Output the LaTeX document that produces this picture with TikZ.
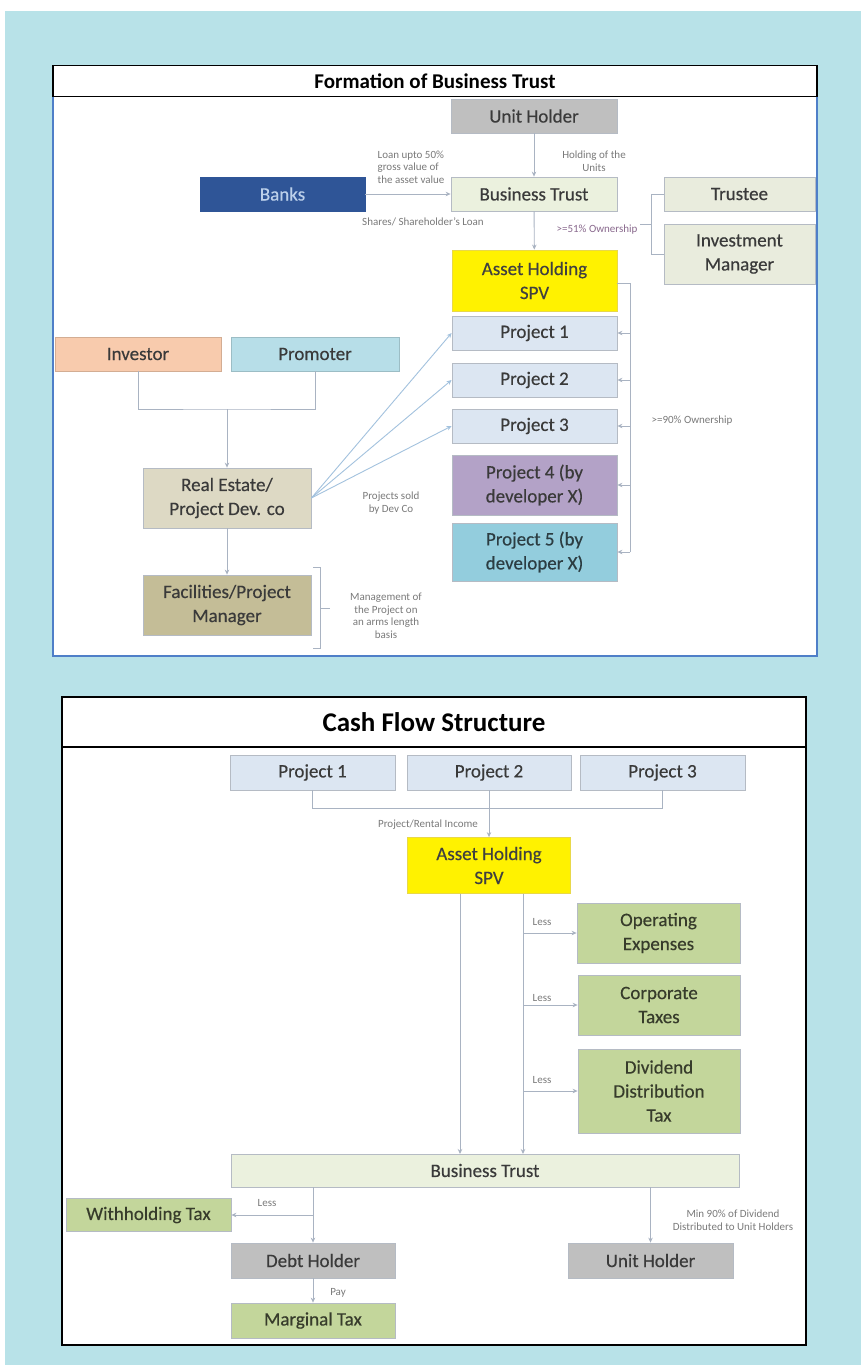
\documentclass[tikz,border=0pt]{standalone}
\usepackage{fontspec}
\setmainfont{Carlito}
\newfontfamily\HeavyFam[FakeBold=0.35]{Carlito}
\usetikzlibrary{arrows.meta}
\definecolor{bgc}{HTML}{B8E2E8}
\definecolor{frameblue}{HTML}{4F7FC8}
\definecolor{lineg}{HTML}{A9B3C2}
\definecolor{lineb}{HTML}{A3C2DE}
\definecolor{lblc}{HTML}{7A7A7A}
\definecolor{pinkl}{HTML}{8A6A8E}
\definecolor{txt}{HTML}{3A3A3A}
\definecolor{grayf}{HTML}{BFBFBF}
\definecolor{btf}{HTML}{EBF1DE}
\definecolor{trf}{HTML}{E9ECDD}
\definecolor{bankf}{HTML}{2F5597}
\definecolor{bankt}{HTML}{BCD0EA}
\definecolor{projf}{HTML}{DCE6F2}
\definecolor{p4f}{HTML}{B3A2C7}
\definecolor{p5f}{HTML}{93CDDD}
\definecolor{invf}{HTML}{F8CBAD}
\definecolor{promf}{HTML}{B7DEE8}
\definecolor{ref}{HTML}{DDD9C4}
\definecolor{facf}{HTML}{C4BD97}
\definecolor{greenf}{HTML}{C3D69B}
\definecolor{yelb}{HTML}{E8D84A}
\definecolor{boxl}{HTML}{B5BBC4}
\newcommand\BoxFnt{\HeavyFam\fontsize{19}{24}\selectfont}
\newcommand\LblFnt{\fontsize{11}{12.5}\selectfont}
\newcommand\TtlFntA{\bfseries\fontsize{21}{24}\selectfont}
\newcommand\TtlFntB{\bfseries\fontsize{27}{30}\selectfont}
\tikzset{
  box/.style={draw=boxl, line width=0.8, inner sep=0, align=center, font=\BoxFnt, text=txt},
  conn/.style={draw=lineg, line width=0.9},
  arr/.style={conn, -{Stealth[length=5,width=4.5]}},
  arrb/.style={draw=lineb, line width=0.9, -{Stealth[length=5,width=4.5]}},
  lbl/.style={font=\LblFnt, text=lblc, align=center, inner sep=0}
}
\begin{document}
\begin{tikzpicture}[x=1pt,y=-1pt]
\useasboundingbox (0,0) rectangle (861,1365);
\fill[white] (0,0) rectangle (861,1365);
\fill[bgc] (5,11) rectangle (861,1365);

% ---------- Formation of Business Trust ----------
\node[draw=frameblue, line width=1.5, fill=white, minimum width=764, minimum height=560, inner sep=0] (f1) at (435,376) {};
\node[draw=black, line width=1.8, fill=white, minimum width=764, minimum height=31, inner sep=0, font=\TtlFntA] (t1) at (435,81) {Formation of Business Trust};

\node[box, fill=grayf, minimum width=166, minimum height=34] (uh1) at (534,116) {Unit Holder};
\node[box, fill=btf, minimum width=166, minimum height=34] (bt1) at (534,194) {Business Trust};
\node[box, fill=bankf, draw=bankf, text=bankt, minimum width=165, minimum height=34] (banks) at (282.5,194) {Banks};
\node[box, fill=trf, minimum width=151, minimum height=34] (trustee) at (739.5,194) {Trustee};
\node[box, fill=trf, minimum width=151, minimum height=60] (im) at (739.5,254) {Investment\\Manager};
\node[box, fill=yellow, draw=yelb, text=black!75, minimum width=165, minimum height=61] (spv1) at (534.5,280.5) {Asset Holding\\SPV};
\node[box, fill=projf, minimum width=165, minimum height=34] (p1) at (534.5,333) {Project 1};
\node[box, fill=projf, minimum width=165, minimum height=34] (p2) at (534.5,380) {Project 2};
\node[box, fill=projf, minimum width=165, minimum height=34] (p3) at (534.5,426) {Project 3};
\node[box, fill=p4f, minimum width=165, minimum height=60] (p4) at (534.5,485) {Project 4 (by\\developer X)};
\node[box, fill=p5f, text=black!70!p5f, minimum width=165, minimum height=58] (p5) at (534.5,552) {Project 5 (by\\developer X)};
\node[box, fill=invf, draw=invf!85!black, minimum width=166, minimum height=34] (inv) at (138,354) {Investor};
\node[box, fill=promf, draw=promf!85!black, minimum width=168, minimum height=34] (prom) at (315,354) {Promoter};
\node[box, fill=ref, minimum width=168, minimum height=60] (re) at (227,498) {Real Estate/\\Project Dev. co};
\node[box, fill=facf, minimum width=168, minimum height=60] (fac) at (227,605) {Facilities/Project\\Manager};

% labels
\node[lbl] (l1) at (594,161) {Holding of the\\Units};
\node[lbl, align=left] (l2) at (411,167) {Loan upto 50\%\\gross value of\\the asset value};
\node[lbl] (l3) at (423,222) {Shares/ Shareholder's Loan};
\node[lbl, text=pinkl] (l4) at (597,230) {>=51\% Ownership};
\node[lbl] (l5) at (692,421) {>=90\% Ownership};
\node[lbl] (l6) at (391,503) {Projects sold\\by Dev Co};
\node[lbl] (l7) at (386,616) {Management of\\the Project on\\an arms length\\basis};

% connectors
\draw[arr] (uh1) -- (bt1);
\draw[arr] (banks) -- (bt1);
\draw[arr] (bt1) -- (spv1);
\coordinate (tm) at (640,224);
\draw[conn] (trustee.west) -- ++(-12,0) |- (im.west);
\draw[conn] (tm) -- ++(12,0);
\coordinate (sb) at (630,283);
\draw[conn] (spv1.east |- sb) -- (sb) -- (sb |- p5.east);
\foreach \p in {p1,p2,p3,p4,p5} \draw[arr] (sb |- \p.east) -- (\p.east);
\coordinate (ip) at (227,409);
\draw[conn] (inv.south) |- (ip) -| (prom.south);
\draw[arr] (ip) -- (re.north);
\foreach \p in {p1,p2,p3} \draw[arrb] (re.east) -- (\p.west);
\draw[arr] (re) -- (fac);
\coordinate (fbt) at (313,567);
\coordinate (fbb) at (313,648);
\coordinate (fbm) at (320,608);
\draw[conn] (fbt) -- ++(7,0) -- ++(0,81) -- (fbb);
\draw[conn] (fbm) -- ++(10,0);

% ---------- Cash Flow Structure ----------
\node[draw=black, line width=2, fill=white, minimum width=744, minimum height=598, inner sep=0] (f2) at (434,1046) {};
\node[draw=black, line width=2, fill=white, minimum width=744, minimum height=50, inner sep=0, font=\TtlFntB] (t2) at (434,722) {Cash Flow Structure};

\node[box, fill=projf, minimum width=165, minimum height=35] (bp1) at (312.5,772.5) {Project 1};
\node[box, fill=projf, minimum width=164, minimum height=35] (bp2) at (489,772.5) {Project 2};
\node[box, fill=projf, minimum width=165, minimum height=35] (bp3) at (662.5,772.5) {Project 3};
\node[box, fill=yellow, draw=yelb, text=black!75, minimum width=163, minimum height=56] (spv2) at (489,865.5) {Asset Holding\\SPV};
\node[box, fill=greenf, text=black!72!greenf, minimum width=163, minimum height=60] (oe) at (658.5,933) {Operating\\Expenses};
\node[box, fill=greenf, text=black!72!greenf, minimum width=162, minimum height=60] (ct) at (659,1005) {Corporate\\Taxes};
\node[box, fill=greenf, text=black!72!greenf, minimum width=162, minimum height=84] (ddt) at (659,1091) {Dividend\\Distribution\\Tax};
\node[box, fill=btf, minimum width=508, minimum height=33] (bt2) at (485,1170.5) {Business Trust};
\node[box, fill=greenf, text=black!72!greenf, minimum width=165, minimum height=33] (wt) at (148.5,1215) {Withholding Tax};
\node[box, fill=grayf, minimum width=164, minimum height=35] (dh) at (313,1260.5) {Debt Holder};
\node[box, fill=greenf, text=black!72!greenf, minimum width=164, minimum height=35] (mt) at (313,1320.5) {Marginal Tax};
\node[box, fill=grayf, minimum width=165, minimum height=35] (uh2) at (650.5,1260.5) {Unit Holder};

\node[lbl] (m1) at (428,825) {Project/Rental Income};
\node[lbl] (m2) at (542,922) {Less};
\node[lbl] (m3) at (542,998) {Less};
\node[lbl] (m4) at (542,1080) {Less};
\node[lbl] (m5) at (267,1203) {Less};
\node[lbl] (m6) at (338,1293) {Pay};
\node[lbl] (m7) at (733,1220) {Min 90\% of Dividend\\Distributed to Unit Holders};

\coordinate (j1) at (312.5,808);
\coordinate (j3) at (662.5,808);
\draw[conn] (bp1.south) -- (j1) -- (j3) -- (bp3.south);
\draw[arr] (bp2.south) -- (spv2.north);
\coordinate (va) at (460,1154);
\coordinate (vb) at (523,1154);
\draw[arr] (spv2.south -| va) -- (va);
\draw[arr] (spv2.south -| vb) -- (vb);
\foreach \b in {oe,ct,ddt} \draw[arr] (vb |- \b.west) -- (\b.west);
\draw[arr] (bt2.south -| dh.north) -- (dh.north);
\coordinate (wj) at (313,1215);
\draw[arr] (wj) -- (wt.east);
\draw[arr] (dh) -- (mt);
\draw[arr] (bt2.south -| uh2.north) -- (uh2.north);
\end{tikzpicture}
\end{document}
